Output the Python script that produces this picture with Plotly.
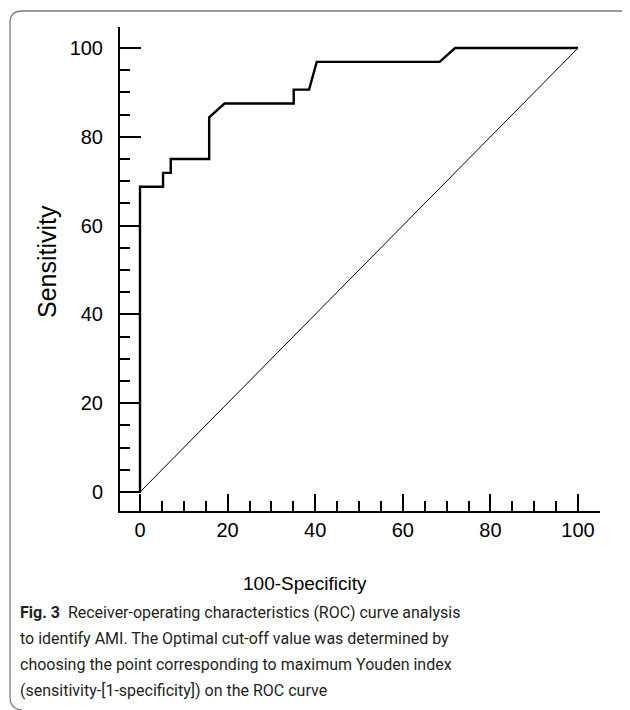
import plotly.graph_objects as go

# ROC curve data
fpr = [0, 0, 5.26, 5.26, 7.02, 7.02, 15.79, 15.79, 19.30, 35.09, 35.09, 38.60, 40.35, 68.42, 71.93, 100]
tpr = [0, 68.75, 68.75, 71.875, 71.875, 75, 75, 84.375, 87.5, 87.5, 90.625, 90.625, 96.875, 96.875, 100, 100]
diag_x = [0, 100]
diag_y = [0, 100]
tick_vals = [0, 20, 40, 60, 80, 100]
tick_text = ["0", "20", "40", "60", "80", "100"]

x_title = "100-Specificity"
y_title = "Sensitivity"
caption_lines = [
    "<b>Fig. 3</b>\u00a0\u00a0Receiver-operating characteristics (ROC) curve analysis",
    "to identify AMI. The Optimal cut-off value was determined by",
    "choosing the point corresponding to maximum Youden index",
    "(sensitivity-[1-specificity]) on the ROC curve",
]

# page has an 8px body margin; work in page pixel coordinates
OFF = 8
W, H = 630 - OFF, 710 - OFF
L, T = 120 - OFF, 27 - OFF
R = W - (600 - OFF)
B = H - (511 - OFF)
PW, PH = W - L - R, H - T - B


def px(xp):
    return (xp - OFF - L) / PW


def py(yp):
    return (H - B - (yp - OFF)) / PH


FONT = "Liberation Sans, Arial, Helvetica, sans-serif"
CAPFONT = "Roboto, Liberation Sans, sans-serif"

fig = go.Figure()
fig.add_trace(go.Scatter(x=diag_x, y=diag_y, mode="lines",
                         line=dict(color="black", width=1), hoverinfo="skip"))
fig.add_trace(go.Scatter(x=fpr, y=tpr, mode="lines",
                         line=dict(color="black", width=2.4), hoverinfo="skip"))

axis_common = dict(
    showgrid=False, zeroline=False, showline=True, linecolor="black", linewidth=2,
    ticks="inside", tickcolor="black", tickwidth=2,
    tickmode="array", tickvals=tick_vals, ticktext=tick_text,
    tickfont=dict(family=FONT, size=20, color="black"),
    mirror=False,
)

fig.update_xaxes(**axis_common, range=[-4.566, 105.02], ticklen=17,
                 ticklabelstandoff=0,
                 minor=dict(tick0=0, dtick=5, ticks="inside", ticklen=10,
                            tickwidth=2, tickcolor="black", showgrid=False))
fig.update_yaxes(**axis_common, range=[-4.28, 104.73], ticklen=21,
                 ticklabelstandoff=11,
                 minor=dict(tick0=0, dtick=5, ticks="inside", ticklen=10,
                            tickwidth=2, tickcolor="black", showgrid=False))

annotations = [
    dict(text=x_title, x=px(305), y=py(583), xref="paper", yref="paper",
         xanchor="center", yanchor="middle", showarrow=False,
         font=dict(family=FONT, size=19, color="black")),
    dict(text=y_title, x=px(47), y=py(262), xref="paper", yref="paper",
         xanchor="center", yanchor="middle", showarrow=False, textangle=-90,
         font=dict(family=FONT, size=25, color="black")),
]
for i, line in enumerate(caption_lines):
    annotations.append(dict(
        text=line, x=px(18), y=py(612 + 26.2 * i), xref="paper", yref="paper",
        xanchor="left", yanchor="middle", showarrow=False, align="left",
        font=dict(family=CAPFONT, size=16, color="#231f20")))

frame_path = (f"M {px(629)},{py(15)} Q {px(628)},{py(11)} {px(622)},{py(11)} "
              f"L {px(22)},{py(11)} Q {px(10)},{py(11)} {px(10)},{py(23)} "
              f"L {px(10)},{py(697)} Q {px(10)},{py(709)} {px(22)},{py(710)}")

fig.update_layout(
    width=W, height=H, autosize=False,
    margin=dict(l=L, r=R, t=T, b=B, pad=0),
    plot_bgcolor="white", paper_bgcolor="white",
    showlegend=False,
    annotations=annotations,
    shapes=[dict(type="path", path=frame_path, xref="paper", yref="paper",
                 line=dict(color="#7a7a7a", width=1.3), layer="above")],
)

fig.write_html("out.html")
